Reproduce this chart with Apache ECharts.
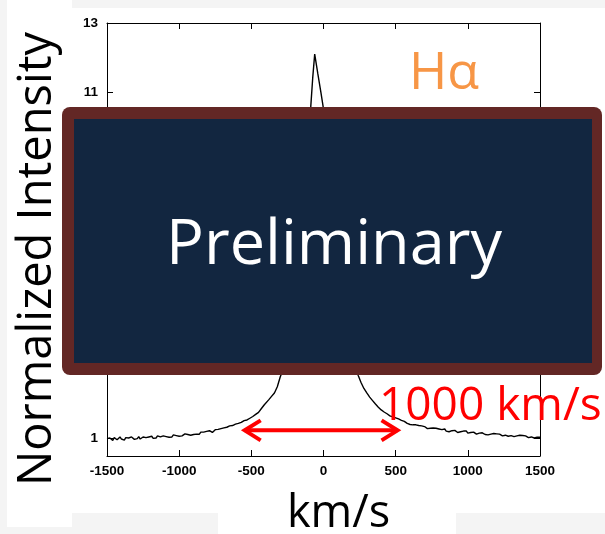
<!DOCTYPE html>
<html><head><meta charset="utf-8">
<script src="https://cdn.jsdelivr.net/npm/echarts@6/dist/echarts.min.js"></script>
<style>html,body{margin:0;padding:0;background:#f4f4f4}#c{width:605px;height:534px}</style>
</head><body><div id="c"></div>
<script>
// Spectrum: velocity (km/s) and normalized intensity
const blueWingVelocity = [
  -1500,-1490,-1480,-1470,-1460,-1450,-1440,-1430,-1420,-1410,
  -1400,-1390,-1380,-1370,-1360,-1350,-1340,-1330,-1320,-1310,
  -1300,-1290,-1280,-1270,-1260,-1250,-1240,-1230,-1220,-1210,
  -1200,-1190,-1180,-1170,-1160,-1150,-1140,-1130,-1120,-1110,
  -1100,-1090,-1080,-1070,-1060,-1050,-1040,-1030,-1020,-1010,
  -1000,-990,-980,-970,-960,-950,-940,-930,-920,-910,
  -900,-890,-880,-870,-860,-850,-840,-830,-820,-810,
  -800,-790,-780,-770,-760,-750,-740,-730,-720,-710,
  -700,-690,-680,-670,-660,-650,-640,-630,-620,-610,
  -600,-590,-580,-570,-560,-550,-540,-530,-520,-510,
  -500,-490,-480,-470,-460,-450,-440,-430,-420,-410,-400
];
const blueWingIntensity = [
  1.00,0.96,1.02,0.99,0.95,1.03,1.00,0.97,1.02,1.05,
  0.99,1.01,0.96,1.03,1.00,1.02,0.97,1.05,1.01,0.98,
  1.03,1.00,1.06,0.99,1.02,1.05,1.00,1.03,0.98,1.05,
  1.02,1.07,1.01,1.04,1.02,1.08,1.03,1.05,1.01,1.08,
  1.04,1.06,1.10,1.04,1.07,1.05,1.11,1.06,1.09,1.12,
  1.07,1.12,1.08,1.10,1.14,1.09,1.12,1.16,1.10,1.14,
  1.12,1.17,1.13,1.17,1.13,1.19,1.15,1.19,1.15,1.21,
  1.17,1.23,1.23,1.18,1.20,1.26,1.22,1.27,1.23,1.29,
  1.26,1.31,1.28,1.33,1.30,1.37,1.33,1.38,1.35,1.42,
  1.38,1.44,1.41,1.47,1.45,1.52,1.48,1.54,1.52,1.59,
  1.56,1.64,1.62,1.70,1.69,1.76,1.78,1.87,1.90,1.98,2.03
];
const coreVelocity = [
  -380,-360,-340,-320,-300,-280,-260,-240,-220,-200,-180,-160,-140,-120,
  -105,-95,-88,-75,-61,-40,-18,-3,15,35,60,80,
  100,120,140,160,180,200,220,240,260,280,300,320,340,360,380
];
const coreIntensity = [
  2.12,2.22,2.32,2.50,2.78,3.00,3.25,3.55,3.90,4.30,4.80,5.40,6.20,7.20,
  8.40,9.60,10.6,11.4,12.1,11.55,11.0,10.6,9.6,8.4,7.0,6.1,
  5.4,4.8,4.3,3.9,3.6,3.3,3.05,2.83,2.62,2.45,2.32,2.20,2.10,2.00,1.91
];
const redWingVelocity = [
  400,410,420,430,440,450,460,470,480,490,
  500,510,520,530,540,550,560,570,580,590,
  600,610,620,630,640,650,660,670,680,690,
  700,710,720,730,740,750,760,770,780,790,
  800,810,820,830,840,850,860,870,880,890,
  900,910,920,930,940,950,960,970,980,990,
  1000,1010,1020,1030,1040,1050,1060,1070,1080,1090,
  1100,1110,1120,1130,1140,1150,1160,1170,1180,1190,
  1200,1210,1220,1230,1240,1250,1260,1270,1280,1290,
  1300,1310,1320,1330,1340,1350,1360,1370,1380,1390,
  1400,1410,1420,1430,1440,1450,1460,1470,1480,1490,1500
];
const redWingIntensity = [
  1.83,1.79,1.77,1.74,1.72,1.69,1.66,1.65,1.63,1.59,
  1.60,1.55,1.57,1.52,1.53,1.48,1.50,1.47,1.44,1.46,
  1.41,1.43,1.40,1.37,1.40,1.35,1.38,1.34,1.37,1.32,
  1.35,1.31,1.29,1.34,1.30,1.27,1.31,1.27,1.30,1.25,
  1.28,1.23,1.26,1.23,1.28,1.22,1.25,1.20,1.24,1.23,
  1.19,1.24,1.21,1.18,1.23,1.20,1.17,1.22,1.19,1.22,
  1.16,1.20,1.18,1.14,1.19,1.17,1.13,1.18,1.16,1.12,
  1.17,1.15,1.12,1.16,1.11,1.15,1.13,1.10,1.15,1.12,
  1.14,1.09,1.13,1.11,1.08,1.13,1.10,1.12,1.07,1.11,
  1.09,1.12,1.06,1.10,1.08,1.05,1.10,1.07,1.09,1.04,
  1.08,1.06,1.03,1.08,1.05,1.07,1.02,1.06,1.04,1.07,1.04
];
const yTickValues = [1,3,5,7,9,11,13];
const arrowSpan = [-560, 527];   // km/s, ends of the red double arrow
const arrowLevel = 1.24;          // intensity level of the arrow

const velocity = blueWingVelocity.concat(coreVelocity, redWingVelocity);
const intensity = blueWingIntensity.concat(coreIntensity, redWingIntensity);
const points = velocity.map((v, i) => [v, intensity[i]]);

const chart = echarts.init(document.getElementById('c'), null, {renderer: 'canvas'});
const tickFont = {fontFamily: '"Liberation Sans", Arial, sans-serif', fontWeight: 'bold', fontSize: 13.5, color: '#000'};
const axisLineStyle = {show: true, onZero: false, lineStyle: {color: '#000', width: 1}};
const tickStyle = {show: true, inside: true, length: 6, lineStyle: {color: '#000', width: 1}};

chart.setOption({
  animation: false,
  backgroundColor: '#f4f4f4',
  grid: {left: 107, right: 65, top: 23, bottom: 78, containLabel: false, outerBoundsMode: 'none'},
  xAxis: [
    {type: 'value', min: -1500, max: 1500, interval: 500, position: 'bottom',
     axisLine: axisLineStyle, axisTick: tickStyle,
     axisLabel: Object.assign({margin: 8, formatter: v => String(v)}, tickFont),
     splitLine: {show: false},
     name: 'km/s', nameLocation: 'middle', nameGap: 58,
     nameTextStyle: {fontFamily: '"Open Sans", sans-serif', fontSize: 45, color: '#000', verticalAlign: 'middle', padding: [0, 0, 0, 30]}},
    {type: 'value', min: -1500, max: 1500, interval: 500, position: 'top',
     axisLine: axisLineStyle, axisTick: tickStyle,
     axisLabel: {show: false}, splitLine: {show: false}}
  ],
  yAxis: [
    {type: 'value', min: 0.5, max: 13, position: 'left',
     axisLine: axisLineStyle,
     axisTick: Object.assign({customValues: yTickValues}, tickStyle),
     axisLabel: Object.assign({margin: 9, customValues: yTickValues, formatter: v => String(v)}, tickFont),
     splitLine: {show: false}},
    {type: 'value', min: 0.5, max: 13, position: 'right',
     axisLine: axisLineStyle,
     axisTick: Object.assign({customValues: yTickValues}, tickStyle),
     axisLabel: {show: false}, splitLine: {show: false}}
  ],
  series: [
    {type: 'line', xAxisIndex: 0, yAxisIndex: 0, data: points, showSymbol: false, symbol: 'none',
     lineStyle: {color: '#000', width: 1.4}, z: 3},
    {type: 'custom', xAxisIndex: 0, yAxisIndex: 0, z: 5,
     data: [[arrowSpan[0], arrowSpan[1], arrowLevel]],
     encode: {x: [0, 1], y: 2},
     renderItem: function (params, api) {
       const a = api.coord([api.value(0), api.value(2)]);
       const b = api.coord([api.value(1), api.value(2)]);
       const st = {stroke: '#ff0000', lineWidth: 4, fill: null, lineCap: 'butt', lineJoin: 'miter'};
       return {type: 'group', children: [
         {type: 'line', shape: {x1: a[0] + 2, y1: a[1], x2: b[0] - 2, y2: b[1]}, style: st},
         {type: 'polyline', shape: {points: [[a[0] + 18, a[1] - 10], [a[0] + 2, a[1]], [a[0] + 18, a[1] + 10]]}, style: st},
         {type: 'polyline', shape: {points: [[b[0] - 18, b[1] - 10], [b[0] - 2, b[1]], [b[0] - 18, b[1] + 10]]}, style: st}
       ]};
     }}
  ],
  graphic: [
    {type: 'rect', z: -10, shape: {x: 72, y: 8, width: 533, height: 505}, style: {fill: '#ffffff'}},
    {type: 'rect', z: -10, shape: {x: 7, y: 0, width: 65, height: 527}, style: {fill: '#ffffff'}},
    {type: 'rect', z: -10, shape: {x: 218, y: 480, width: 238, height: 54}, style: {fill: '#ffffff'}},
    {type: 'text', z: 10, x: 38, y: 259, rotation: Math.PI / 2,
     style: {text: 'Normalized Intensity', fill: '#000', font: '47px "Open Sans", sans-serif', textAlign: 'center', textVerticalAlign: 'middle'}},
    {type: 'text', z: 10, x: 409, y: 74,
     style: {text: 'Hα', fill: '#f79646', font: '52px "Open Sans", sans-serif', textAlign: 'left', textVerticalAlign: 'middle'}},
    {type: 'rect', z: 20, shape: {x: 62, y: 107, width: 540, height: 268, r: 8}, style: {fill: '#632725'}},
    {type: 'rect', z: 21, shape: {x: 74, y: 119, width: 518, height: 244}, style: {fill: '#122640'}},
    {type: 'text', z: 22, x: 334, y: 246,
     style: {text: 'Preliminary', fill: '#ffffff', font: '63px "Open Sans", sans-serif', textAlign: 'center', textVerticalAlign: 'middle'}},
    {type: 'text', z: 22, x: 379, y: 407,
     style: {text: '1000 km/s', fill: '#ff0000', font: '46px "Open Sans", sans-serif', textAlign: 'left', textVerticalAlign: 'middle'}}
  ]
});
</script>
</body></html>
